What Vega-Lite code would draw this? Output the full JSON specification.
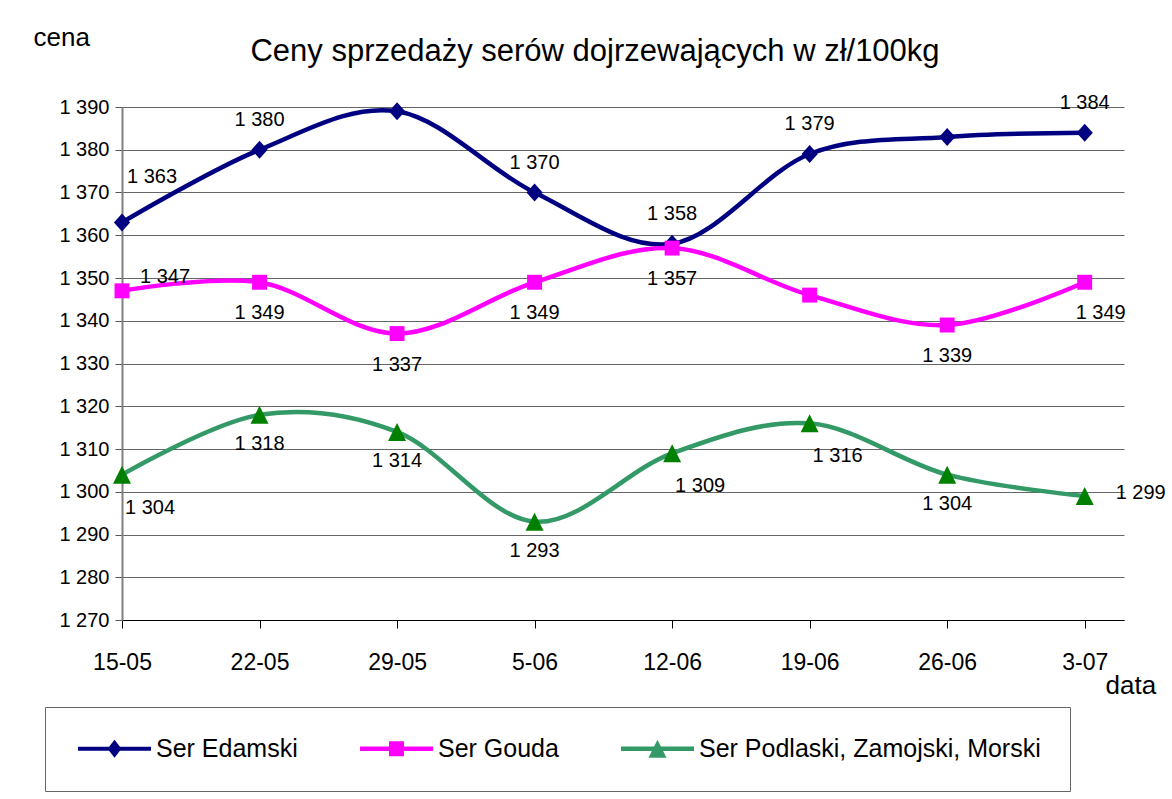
{
  "$schema": "https://vega.github.io/schema/vega-lite/v6.json",
  "autosize": {"type": "none"},
  "width": 1002,
  "height": 513,
  "padding": {"left": 122, "top": 107, "right": 48, "bottom": 179},
  "background": "white",
  "config": {
    "font": "Liberation Sans",
    "view": {"stroke": null},
    "locale": {"number": {"decimal": ",", "thousands": " ", "grouping": [3], "currency": ["", " zł"]}}
  },
  "title": {
    "text": "Ceny sprzedaży serów dojrzewających w zł/100kg",
    "fontSize": 31,
    "fontWeight": "normal",
    "font": "Liberation Sans",
    "color": "black",
    "anchor": "middle",
    "baseline": "alphabetic",
    "dx": -28,
    "offset": -68
  },
  "data": {
    "values": [
      {"date": "2008-05-15", "series": "Ser Edamski", "cena": 1363},
      {"date": "2008-05-22", "series": "Ser Edamski", "cena": 1380},
      {"date": "2008-05-29", "series": "Ser Edamski", "cena": 1389},
      {"date": "2008-06-05", "series": "Ser Edamski", "cena": 1370},
      {"date": "2008-06-12", "series": "Ser Edamski", "cena": 1358},
      {"date": "2008-06-19", "series": "Ser Edamski", "cena": 1379},
      {"date": "2008-06-26", "series": "Ser Edamski", "cena": 1383},
      {"date": "2008-07-03", "series": "Ser Edamski", "cena": 1384},
      {"date": "2008-05-15", "series": "Ser Gouda", "cena": 1347},
      {"date": "2008-05-22", "series": "Ser Gouda", "cena": 1349},
      {"date": "2008-05-29", "series": "Ser Gouda", "cena": 1337},
      {"date": "2008-06-05", "series": "Ser Gouda", "cena": 1349},
      {"date": "2008-06-12", "series": "Ser Gouda", "cena": 1357},
      {"date": "2008-06-19", "series": "Ser Gouda", "cena": 1346},
      {"date": "2008-06-26", "series": "Ser Gouda", "cena": 1339},
      {"date": "2008-07-03", "series": "Ser Gouda", "cena": 1349},
      {"date": "2008-05-15", "series": "Ser Podlaski, Zamojski, Morski", "cena": 1304},
      {"date": "2008-05-22", "series": "Ser Podlaski, Zamojski, Morski", "cena": 1318},
      {"date": "2008-05-29", "series": "Ser Podlaski, Zamojski, Morski", "cena": 1314},
      {"date": "2008-06-05", "series": "Ser Podlaski, Zamojski, Morski", "cena": 1293},
      {"date": "2008-06-12", "series": "Ser Podlaski, Zamojski, Morski", "cena": 1309},
      {"date": "2008-06-19", "series": "Ser Podlaski, Zamojski, Morski", "cena": 1316},
      {"date": "2008-06-26", "series": "Ser Podlaski, Zamojski, Morski", "cena": 1304},
      {"date": "2008-07-03", "series": "Ser Podlaski, Zamojski, Morski", "cena": 1299}
    ]
  },
  "encoding": {
    "x": {
      "field": "date",
      "type": "temporal",
      "scale": {
        "type": "utc",
        "domain": [
          {"year": 2008, "month": 5, "date": 15, "utc": true},
          {"year": 2008, "month": 7, "date": 5, "utc": true}
        ]
      },
      "axis": {
        "title": "data",
        "titleFontSize": 26,
        "titleFontWeight": "normal",
        "titleColor": "black",
        "titleAngle": 0,
        "titleAlign": "left",
        "titleBaseline": "alphabetic",
        "titleX": 983,
        "titleY": 73,
        "values": [
          {"year": 2008, "month": 5, "date": 15, "utc": true},
          {"year": 2008, "month": 5, "date": 22, "utc": true},
          {"year": 2008, "month": 5, "date": 29, "utc": true},
          {"year": 2008, "month": 6, "date": 5, "utc": true},
          {"year": 2008, "month": 6, "date": 12, "utc": true},
          {"year": 2008, "month": 6, "date": 19, "utc": true},
          {"year": 2008, "month": 6, "date": 26, "utc": true},
          {"year": 2008, "month": 7, "date": 3, "utc": true}
        ],
        "labelExpr": "utcFormat(datum.value, '%-d-%m')",
        "labelFontSize": 23,
        "labelColor": "black",
        "labelPadding": 23,
        "labelFlush": false,
        "labelOverlap": false,
        "tickSize": 8,
        "tickColor": "black",
        "domainColor": "black",
        "domainWidth": 1.2,
        "grid": false
      }
    },
    "y": {
      "field": "cena",
      "type": "quantitative",
      "scale": {"domain": [1270, 1390], "nice": false, "zero": false},
      "axis": {
        "title": "cena",
        "titleFontSize": 26,
        "titleFontWeight": "normal",
        "titleColor": "black",
        "titleAngle": 0,
        "titleAlign": "left",
        "titleBaseline": "alphabetic",
        "titleX": -89,
        "titleY": -62,
        "values": [1270, 1280, 1290, 1300, 1310, 1320, 1330, 1340, 1350, 1360, 1370, 1380, 1390],
        "format": ",d",
        "labelFontSize": 20,
        "labelColor": "black",
        "labelPadding": 6,
        "labelFlush": false,
        "labelOverlap": false,
        "tickSize": 7,
        "tickColor": "#555",
        "domainColor": "#808080",
        "domainWidth": 2,
        "grid": true,
        "gridColor": "#666",
        "gridWidth": 1
      }
    }
  },
  "layer": [
    {
      "mark": {"type": "line", "interpolate": "cardinal", "strokeWidth": 4.5},
      "encoding": {
        "color": {
          "field": "series",
          "type": "nominal",
          "scale": {
            "domain": ["Ser Edamski", "Ser Gouda", "Ser Podlaski, Zamojski, Morski"],
            "range": ["#000080", "#FF00FF", "#339966"]
          },
          "legend": {
            "orient": "none",
            "legendX": -77,
            "legendY": 600,
            "direction": "horizontal",
            "title": null,
            "strokeColor": "#666",
            "fillColor": "white",
            "padding": 29,
            "symbolSize": 400,
            "symbolOffset": 28,
            "symbolType": {"expr": "datum.value === 'Ser Edamski' ? 'M-3.65,-0.2H3.65V0.2H-3.65Z M0,-0.9L0.7,0L0,0.9L-0.7,0Z' : datum.value === 'Ser Gouda' ? 'M-3.65,-0.22H3.65V0.22H-3.65Z M-0.75,-0.75H0.75V0.75H-0.75Z' : 'M-3.65,-0.22H3.65V0.22H-3.65Z M0,-0.9L0.9,0.9H-0.9Z'"},
            "symbolFillColor": {"expr": "scale('color', datum.value)"},
            "symbolStrokeWidth": 0,
            "symbolOpacity": 1,
            "labelFontSize": 25,
            "labelFont": "Liberation Sans",
            "labelColor": "black",
            "labelLimit": 600,
            "labelOffset": 29,
            "columnPadding": 58
          }
        }
      }
    },
    {
      "transform": [{"filter": "datum.series === 'Ser Edamski'"}],
      "mark": {"type": "point", "filled": true, "opacity": 1, "size": 324, "shape": "M0,-1L0.9,0L0,1L-0.9,0Z", "color": "#000080"}
    },
    {
      "transform": [{"filter": "datum.series === 'Ser Gouda'"}],
      "mark": {"type": "point", "filled": true, "opacity": 1, "size": 324, "shape": "M-0.83,-0.83H0.83V0.83H-0.83Z", "color": "#FF00FF"}
    },
    {
      "transform": [{"filter": "datum.series === 'Ser Podlaski, Zamojski, Morski'"}],
      "mark": {"type": "point", "filled": true, "opacity": 1, "size": 324, "shape": "M0,-1L1,1H-1Z", "color": "#008000"}
    },
    {
      "transform": [{"filter": "datum.series === 'Ser Edamski' && indexof(['15-05','29-05','26-06'], utcFormat(datum.date, '%d-%m')) < 0"}],
      "mark": {"type": "text", "fontSize": 20, "color": "black", "baseline": "middle", "align": "center", "dy": -30},
      "encoding": {"text": {"field": "cena", "type": "quantitative", "format": ",d"}}
    },
    {
      "transform": [{"filter": "datum.series === 'Ser Edamski' && utcFormat(datum.date, '%d-%m') === '15-05'"}],
      "mark": {"type": "text", "fontSize": 20, "color": "black", "baseline": "middle", "align": "center", "dx": 30, "dy": -45},
      "encoding": {"text": {"field": "cena", "type": "quantitative", "format": ",d"}}
    },
    {
      "transform": [{"filter": "datum.series === 'Ser Gouda' && indexof(['15-05','19-06','03-07'], utcFormat(datum.date, '%d-%m')) < 0"}],
      "mark": {"type": "text", "fontSize": 20, "color": "black", "baseline": "middle", "align": "center", "dy": 31},
      "encoding": {"text": {"field": "cena", "type": "quantitative", "format": ",d"}}
    },
    {
      "transform": [{"filter": "datum.series === 'Ser Gouda' && utcFormat(datum.date, '%d-%m') === '15-05'"}],
      "mark": {"type": "text", "fontSize": 20, "color": "black", "baseline": "middle", "align": "center", "dx": 43, "dy": -14},
      "encoding": {"text": {"field": "cena", "type": "quantitative", "format": ",d"}}
    },
    {
      "transform": [{"filter": "datum.series === 'Ser Gouda' && utcFormat(datum.date, '%d-%m') === '03-07'"}],
      "mark": {"type": "text", "fontSize": 20, "color": "black", "baseline": "middle", "align": "center", "dx": 16, "dy": 31},
      "encoding": {"text": {"field": "cena", "type": "quantitative", "format": ",d"}}
    },
    {
      "transform": [{"filter": "datum.series === 'Ser Podlaski, Zamojski, Morski' && indexof(['15-05','12-06','19-06','03-07'], utcFormat(datum.date, '%d-%m')) < 0"}],
      "mark": {"type": "text", "fontSize": 20, "color": "black", "baseline": "middle", "align": "center", "dy": 29},
      "encoding": {"text": {"field": "cena", "type": "quantitative", "format": ",d"}}
    },
    {
      "transform": [{"filter": "datum.series === 'Ser Podlaski, Zamojski, Morski' && indexof(['15-05','12-06','19-06'], utcFormat(datum.date, '%d-%m')) >= 0"}],
      "mark": {"type": "text", "fontSize": 20, "color": "black", "baseline": "middle", "align": "center", "dx": 28, "dy": 33},
      "encoding": {"text": {"field": "cena", "type": "quantitative", "format": ",d"}}
    },
    {
      "transform": [{"filter": "datum.series === 'Ser Podlaski, Zamojski, Morski' && utcFormat(datum.date, '%d-%m') === '03-07'"}],
      "mark": {"type": "text", "fontSize": 20, "color": "black", "baseline": "middle", "align": "center", "dx": 56, "dy": -3},
      "encoding": {"text": {"field": "cena", "type": "quantitative", "format": ",d"}}
    }
  ]
}
